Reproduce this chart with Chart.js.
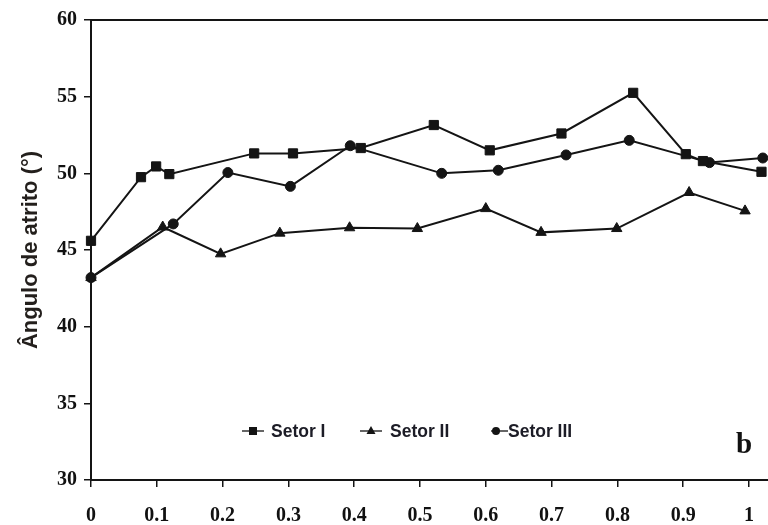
<!DOCTYPE html>
<html>
<head>
<meta charset="utf-8">
<script src="https://cdn.jsdelivr.net/npm/chart.js@4.4.1/dist/chart.umd.min.js"></script>
<style>
  html, body { margin: 0; padding: 0; background: #ffffff; overflow: hidden; }
  canvas { display: block; }
</style>
</head>
<body>
<canvas id="chart" width="768" height="525"></canvas>
<script>
// Friction angle versus relative position, three sectors
const setorIX   = [0, 0.076, 0.099, 0.119, 0.248, 0.307, 0.410, 0.521, 0.606, 0.715, 0.824, 0.904, 0.930, 1.019];
const setorIY   = [45.6, 49.75, 50.45, 49.95, 51.3, 51.3, 51.65, 53.15, 51.5, 52.6, 55.25, 51.25, 50.8, 50.1];
const setorIIX  = [0, 0.109, 0.197, 0.287, 0.393, 0.496, 0.600, 0.684, 0.799, 0.909, 0.994];
const setorIIY  = [43.2, 46.5, 44.75, 46.1, 46.45, 46.4, 47.7, 46.15, 46.4, 48.75, 47.55];
const setorIIIX = [0, 0.125, 0.208, 0.303, 0.394, 0.533, 0.619, 0.722, 0.818, 0.940, 1.021];
const setorIIIY = [43.2, 46.7, 50.05, 49.15, 51.8, 50.0, 50.2, 51.2, 52.15, 50.7, 51.0];

const seriesNames = ['Setor I', 'Setor II', 'Setor III'];
const xTickValues = [0, 0.1, 0.2, 0.3, 0.4, 0.5, 0.6, 0.7, 0.8, 0.9, 1];
const yTickValues = [30, 35, 40, 45, 50, 55, 60];
const yTitle = 'Ângulo de atrito (°)';
const panelLetter = 'b';

const INK = '#141414';
const toPoints = (xs, ys) => xs.map((x, i) => ({ x: x, y: ys[i] }));

function seriesStyle(label, xs, ys, style, radius) {
  return {
    label: label,
    data: toPoints(xs, ys),
    borderColor: INK,
    backgroundColor: INK,
    borderWidth: 2,
    pointStyle: style,
    pointRadius: radius,
    pointHoverRadius: radius,
    pointBorderWidth: 1,
    pointBackgroundColor: INK,
    pointBorderColor: INK,
    tension: 0,
    fill: false,
    clip: false
  };
}

// Frame top line, in-plot legend and panel letter
const decorations = {
  id: 'decorations',
  afterDraw(chart) {
    const ctx = chart.ctx;
    const a = chart.chartArea;
    ctx.save();
    ctx.strokeStyle = INK;
    ctx.lineWidth = 2;
    ctx.beginPath();
    ctx.moveTo(a.left, a.top);
    ctx.lineTo(a.right, a.top);
    ctx.stroke();

    // legend
    const ly = 431;
    const items = [
      { x0: 242, x1: 264, mx: 253, tx: 271, shape: 'rect' },
      { x0: 360, x1: 382, mx: 371, tx: 390, shape: 'triangle' },
      { x0: 491, x1: 508, mx: 496, tx: 508, shape: 'circle' }
    ];
    ctx.lineWidth = 1.5;
    items.forEach((it, i) => {
      ctx.strokeStyle = '#333';
      ctx.beginPath();
      ctx.moveTo(it.x0, ly);
      ctx.lineTo(it.x1, ly);
      ctx.stroke();
      ctx.fillStyle = INK;
      ctx.beginPath();
      if (it.shape === 'rect') {
        ctx.rect(it.mx - 4, ly - 4, 8, 8);
      } else if (it.shape === 'triangle') {
        ctx.moveTo(it.mx, ly - 5);
        ctx.lineTo(it.mx + 4.5, ly + 3);
        ctx.lineTo(it.mx - 4.5, ly + 3);
        ctx.closePath();
      } else {
        ctx.arc(it.mx, ly, 4, 0, Math.PI * 2);
      }
      ctx.fill();
      ctx.fillStyle = '#1c1c26';
      ctx.font = 'bold 17.5px "Liberation Sans", Arial, sans-serif';
      ctx.textAlign = 'left';
      ctx.textBaseline = 'middle';
      ctx.fillText(seriesNames[i], it.tx, ly + 1);
    });

    // panel letter
    ctx.fillStyle = '#111';
    ctx.font = 'bold 29px "Liberation Serif", "Times New Roman", serif';
    ctx.textAlign = 'left';
    ctx.textBaseline = 'alphabetic';
    ctx.fillText(panelLetter, 736, 453);
    ctx.restore();
  }
};

const tickFont = { family: '"Liberation Serif", "Times New Roman", serif', size: 20, weight: 'bold' };

new Chart(document.getElementById('chart'), {
  type: 'line',
  data: {
    datasets: [
      seriesStyle(seriesNames[0], setorIX, setorIY, 'rect', 6.5),
      seriesStyle(seriesNames[1], setorIIX, setorIIY, 'triangle', 6),
      seriesStyle(seriesNames[2], setorIIIX, setorIIIY, 'circle', 5)
    ]
  },
  options: {
    responsive: false,
    maintainAspectRatio: false,
    devicePixelRatio: 1,
    animation: false,
    layout: { autoPadding: false, padding: { top: 20, right: 0, bottom: 0, left: 0 } },
    plugins: {
      legend: { display: false },
      tooltip: { enabled: false }
    },
    scales: {
      x: {
        type: 'linear',
        min: 0,
        max: 1.0289,
        afterBuildTicks(scale) { scale.ticks = xTickValues.map(v => ({ value: v })); },
        afterFit(scale) {
          scale.height = 45;
          scale.paddingLeft = 0;
          scale.paddingRight = 0;
        },
        grid: { display: true, drawOnChartArea: false, drawTicks: true, tickLength: 7, color: INK, lineWidth: 1.5 },
        border: { display: true, color: INK, width: 2 },
        ticks: {
          padding: 17,
          color: '#111',
          font: tickFont,
          maxRotation: 0,
          autoSkip: false,
          callback: v => String(Math.round(v * 10) / 10)
        }
      },
      y: {
        type: 'linear',
        min: 30,
        max: 60,
        afterBuildTicks(scale) { scale.ticks = yTickValues.map(v => ({ value: v })); },
        afterFit(scale) { scale.width = 91; },
        grid: { display: true, drawOnChartArea: false, drawTicks: true, tickLength: 7, color: INK, lineWidth: 1.5 },
        border: { display: true, color: INK, width: 2 },
        ticks: { padding: 7, color: '#111', font: tickFont, autoSkip: false },
        title: {
          display: true,
          text: yTitle,
          color: '#231f1c',
          font: { family: '"Liberation Sans", Arial, sans-serif', size: 22, weight: 'bold' },
          padding: { top: 18, bottom: 0 }
        }
      }
    }
  },
  plugins: [decorations]
});
</script>
</body>
</html>
